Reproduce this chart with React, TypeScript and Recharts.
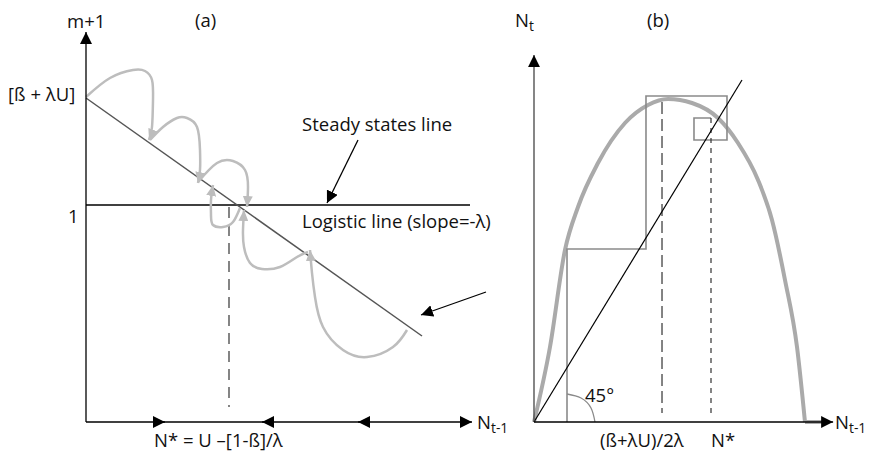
import React from "react";
import { LineChart, Line, XAxis, YAxis } from "recharts";

type Pt = { x: number; y: number };
const pts = (a: number[][]): Pt[] => a.map(([x, y]) => ({ x, y }));

// ---- panel (a): m+1 vs N(t-1), both axes in 0..100 units
const axisAX = pts([[0, 0], [96.5, 0]]);
const axisAY = pts([[0, 0], [0, 97.5]]);
const logisticLine = pts([[0, 81], [84, 21.5]]);
const steadyLine = pts([[0, 54.25], [96, 54.25]]);
const nStarDrop = pts([[35.75, 53.75], [35.75, 3.75]]);
const flowRight = [19.75];
const flowLeft = [44, 68];
const pointerSteady = pts([[68, 70.5], [60.25, 54.75]]);
const pointerLogistic = pts([[100, 32.5], [83.75, 26.75]]);

const loop1 = pts([[0, 81.25], [6, 86], [11.75, 88], [14.75, 87.75], [16.5, 85.5], [16.75, 80.5], [16.5, 73.75], [15.75, 70.5]]);
const loop2 = pts([[16, 70.5], [19.25, 73.75], [22.75, 76], [25.25, 76], [27.75, 73.75], [28.5, 68], [28.5, 63], [28, 59.75]]);
const loop3 = pts([[28, 60], [32.75, 64.75], [36.75, 65.25], [39.75, 63], [40.5, 58.75], [40.25, 53.75]]);
const loop4 = pts([[38.5, 53.5], [36.75, 50], [34.25, 48.75], [31.75, 49.25], [31.25, 51.75], [31.25, 55.5], [31.75, 59.25]]);
const loop5 = pts([[55.5, 42.5], [52.75, 41.25], [48.5, 38.75], [44, 38.25], [41, 39.75], [39.5, 43.75], [39.25, 48], [39.5, 53]]);
const loop6 = pts([[80.25, 23], [76.75, 18.75], [70.25, 16.25], [64.25, 18], [59.25, 23.75], [57.25, 31.25], [56.5, 37.25], [56, 43]]);
const loopsA = [loop1, loop2, loop3, loop4, loop5, loop6];

// ---- panel (b): N(t) vs N(t-1), x 0..100, y 0..125
const axisBX = pts([[0, 0], [99.7, 0]]);
const axisBY = pts([[0, 0], [0, 122.3]]);
const hump = pts([[0, 0], [5.33, 25], [10.33, 57.33], [14.67, 71.67], [21.33, 86.33], [30.33, 99.67], [38, 105.67], [44.67, 107.67], [52.67, 106.33], [61.33, 101.33], [68, 93], [74.67, 80.67], [79.33, 67.33], [83.67, 47.33], [87.67, 25], [90.33, 0]]);
const humpTail = pts([[90.33, 0], [96, 0]]);
const diagonal = pts([[0, 0], [69.33, 114]]);
const cobweb = pts([[11, 0], [11, 57.67], [37.33, 57.67], [37.33, 108.67], [64.33, 108.67], [64.33, 94], [53.33, 94], [53.33, 101.33], [59, 101.33]]);
const midDrop = pts([[42.67, 106.67], [42.67, 3]]);
const nStarB = pts([[59, 101.33], [59, 3]]);
const angleArc = pts([[20.33, 0], [19, 4.67], [15.67, 8], [11, 9.33]]);

const FONT = '"Open Sans", sans-serif';
const FS = 18.5;

const Arrow = ({ id, color, len, w }: { id: string; color: string; len: number; w: number }) => (
  <marker id={id} viewBox={`0 0 ${len} ${w}`} refX={len} refY={w / 2} markerWidth={len} markerHeight={w} orient="auto" markerUnits="userSpaceOnUse">
    <path d={`M0,0 L${len},${w / 2} L0,${w} Z`} fill={color} />
  </marker>
);

const seg = (data: Pt[], color: string, width: number, extra: any = {}, key?: string) => (
  <Line key={key} data={data} dataKey="y" type="linear" stroke={color} strokeWidth={width} dot={false} activeDot={false} isAnimationActive={false} {...extra} />
);

const Txt = ({ x, y, children, size = FS }: { x: number; y: number; children: React.ReactNode; size?: number }) => (
  <div style={{ position: "absolute", left: x, top: y - 0.888 * size, fontSize: size, lineHeight: 1, fontFamily: FONT, whiteSpace: "nowrap", color: "#111" }}>
    {children}
  </div>
);
const Sub = ({ children }: { children: React.ReactNode }) => (
  <span style={{ fontSize: "0.75em", position: "relative", top: "0.32em" }}>{children}</span>
);

function PanelA() {
  return (
    <LineChart width={500} height={463} margin={{ top: 22, right: 14, bottom: 41, left: 86 }} style={{ position: "absolute", left: 0, top: 0 }}>
      <defs>
        <Arrow id="a-blk" color="#000" len={12} w={12} />
        <Arrow id="a-gry" color="#bdbdbd" len={11} w={10} />
      </defs>
      <XAxis type="number" dataKey="x" domain={[0, 100]} hide />
      <YAxis type="number" dataKey="y" domain={[0, 100]} hide />
      {seg(nStarDrop, "#444", 1.3, { strokeDasharray: "11 7" })}
      {seg(steadyLine, "#000", 1.3)}
      {seg(logisticLine, "#555", 1.5)}
      {loopsA.map((l, i) => seg(l, "#bdbdbd", 2.5, { type: "natural", markerEnd: "url(#a-gry)" }, `loop${i}`))}
      {seg(axisAX, "#000", 1.3, { markerEnd: "url(#a-blk)" })}
      {seg(axisAY, "#000", 1.3, { markerEnd: "url(#a-blk)" })}
      {flowRight.map((v) => seg(pts([[v - 3, 0], [v, 0]]), "#000", 1.3, { markerEnd: "url(#a-blk)" }, `r${v}`))}
      {flowLeft.map((v) => seg(pts([[v + 3, 0], [v, 0]]), "#000", 1.3, { markerEnd: "url(#a-blk)" }, `l${v}`))}
      {seg(pointerSteady, "#000", 1.3, { markerEnd: "url(#a-blk)" })}
      {seg(pointerLogistic, "#000", 1.3, { markerEnd: "url(#a-blk)" })}
    </LineChart>
  );
}

function PanelB() {
  return (
    <LineChart width={440} height={463} margin={{ top: 47, right: 46, bottom: 41, left: 94 }} style={{ position: "absolute", left: 440, top: 0 }}>
      <defs>
        <Arrow id="b-blk" color="#000" len={12} w={12} />
      </defs>
      <XAxis type="number" dataKey="x" domain={[0, 100]} hide />
      <YAxis type="number" dataKey="y" domain={[0, 125]} hide />
      {seg(hump, "#aaaaaa", 4, { type: "monotone" })}
      {seg(humpTail, "#aaaaaa", 4)}
      {seg(cobweb, "#8a8a8a", 1.6)}
      {seg(angleArc, "#8a8a8a", 1.3, { type: "natural" })}
      {seg(midDrop, "#333", 1.2, { strokeDasharray: "12 5" })}
      {seg(nStarB, "#333", 1.2, { strokeDasharray: "5 5" })}
      {seg(diagonal, "#000", 1.2)}
      {seg(axisBY, "#444", 1.3, { markerEnd: "url(#b-blk)" })}
      {seg(axisBX, "#000", 1.3, { markerEnd: "url(#b-blk)" })}
    </LineChart>
  );
}

export default function App() {
  return (
    <div style={{ position: "absolute", left: 0, top: 0, width: 880, height: 463, background: "#fff", overflow: "hidden" }}>
      <PanelA />
      <PanelB />
      <Txt x={67} y={28}>m+1</Txt>
      <Txt x={195} y={27}>(a)</Txt>
      <Txt x={8} y={101}>[ß + λU]</Txt>
      <Txt x={68} y={223}>1</Txt>
      <Txt x={302} y={131}>Steady states line</Txt>
      <Txt x={302} y={228}>Logistic line (slope=-λ)</Txt>
      <Txt x={154} y={447}>N* = U –[1-ß]/λ</Txt>
      <Txt x={477} y={429}>N<Sub>t-1</Sub></Txt>
      <Txt x={515} y={27}>N<Sub>t</Sub></Txt>
      <Txt x={647} y={27}>(b)</Txt>
      <Txt x={585} y={402}>45°</Txt>
      <Txt x={600} y={447}>(ß+λU)/2λ</Txt>
      <Txt x={711} y={447}>N*</Txt>
      <Txt x={835} y={429}>N<Sub>t-1</Sub></Txt>
    </div>
  );
}
